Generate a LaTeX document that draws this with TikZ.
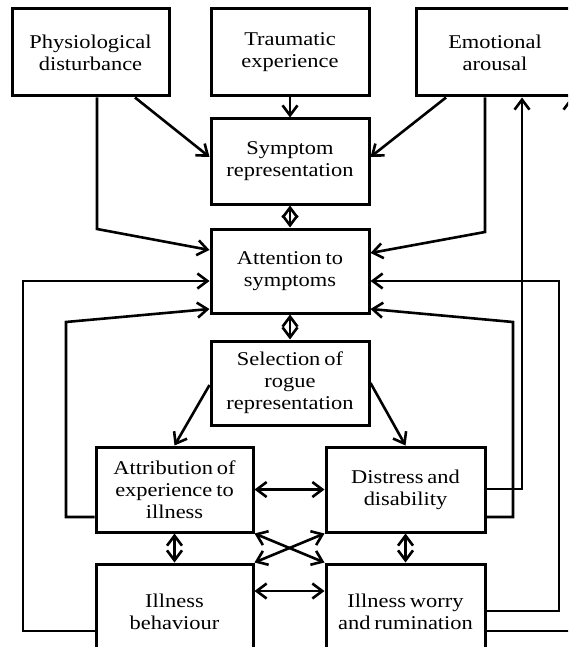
\documentclass[tikz,border=0pt]{standalone}
\usepackage{fontspec}
\setmainfont[FakeStretch=1.15,WordSpace=0.7]{Liberation Serif}
\usetikzlibrary{arrows.meta}

\begin{document}
\begin{tikzpicture}[x=1pt,y=-1pt,
  box/.style={draw,line width=3pt,align=center,inner sep=0pt,
    font=\fontsize{19.5}{22}\selectfont},
  link/.style={line width=2.6pt,line join=miter},
  tip/.style={},
  arr/.style={link,-{Straight Barb[length=10pt,width=15pt]}},
  dbl/.style={link,{Straight Barb[length=10pt,width=15pt]}-{Straight Barb[length=10pt,width=15pt]}},
]
\useasboundingbox (0,0) rectangle (568,647);
\fill[white] (0,0) rectangle (568,647);
\clip (0,0) rectangle (568,647);

% top row
\node[box,minimum width=157pt,minimum height=87pt] (phys) at (90.5,52.5) {Physiological\\disturbance};
\node[box,minimum width=158pt,minimum height=87pt] (trau) at (290,52.5) {Traumatic\\experience};
\node[box,minimum width=158pt,minimum height=87pt] (emo)  at (495,52.5) {Emotional\\arousal};

% central column
\node[box,minimum width=158pt,minimum height=85pt] (symp) at (290,161.5) {Symptom\\representation};
\node[box,minimum width=158pt,minimum height=84pt] (att)  at (290,271) {Attention to\\symptoms};
\node[box,minimum width=158pt,minimum height=84pt] (sel)  at (290,383) {Selection of\\rogue\\representation};

% lower pairs
\node[box,minimum width=157pt,minimum height=85pt] (attr) at (174.5,489.5) {Attribution of\\experience to\\illness};
\node[box,minimum width=159pt,minimum height=85pt] (dist) at (405.5,489.5) {Distress and\\disability};
\node[box,minimum width=157pt,minimum height=96pt] (beh)  at (174.5,612) {Illness\\behaviour};
\node[box,minimum width=159pt,minimum height=96pt] (wor)  at (405.5,612) {Illness worry\\and rumination};

% free ends at the right margin
\coordinate (edgeup)  at (571,140);
\coordinate (edgeout) at (580,631);

% into the symptom representation
\draw[arr] (phys.south -| 135,0) -- (symp.west |- 0,157);
\draw[arr] (trau.south) -- (symp.north);
\draw[arr] (emo.south -| 446,0) -- (symp.east |- 0,157);

% into attention to symptoms
\draw[arr] (phys.south -| 97,0) -- (97,229) -- (att.west |- 0,250);
\draw[arr] (emo.south -| 485,0) -- (485,232) -- (att.east |- 0,253);
\draw[dbl] (symp.south) -- (att.north);
\draw[dbl] (att.south) -- (sel.north);

% selection splits
\draw[arr] (sel.west |- 0,385) -- (attr.north);
\draw[arr] (sel.east |- 0,383) -- (dist.north);

% links among the lower four
\draw[dbl] (attr.east) -- (dist.west);
\draw[dbl] (attr.south) -- (beh.north);
\draw[dbl] (dist.south) -- (wor.north);
\draw[dbl] (attr.south east) -- (wor.north west);
\draw[dbl] (dist.south west) -- (beh.north east);
\draw[dbl] (beh.east |- 0,591) -- (wor.west |- 0,591);

% feedback loops
\draw[arr] (attr.west |- 0,517) -- (66,517) -- (66,322) -- (att.west |- 0,309);
\draw[arr] (beh.west |- 0,631) -- (23,631) -- (23,281) -- (att.west |- 0,281);
\draw[arr] (dist.east |- 0,489) -- (522,489) -- (emo.south -| 522,0);
\draw[arr] (dist.east |- 0,517) -- (513,517) -- (513,322) -- (att.east |- 0,309);
\draw[arr] (wor.east |- 0,611) -- (559,611) -- (559,281) -- (att.east |- 0,281);
\draw[link] (wor.east |- edgeout) -- (edgeout);
\draw[arr] (edgeup) -- (emo.south -| edgeup);
\end{tikzpicture}
\end{document}
